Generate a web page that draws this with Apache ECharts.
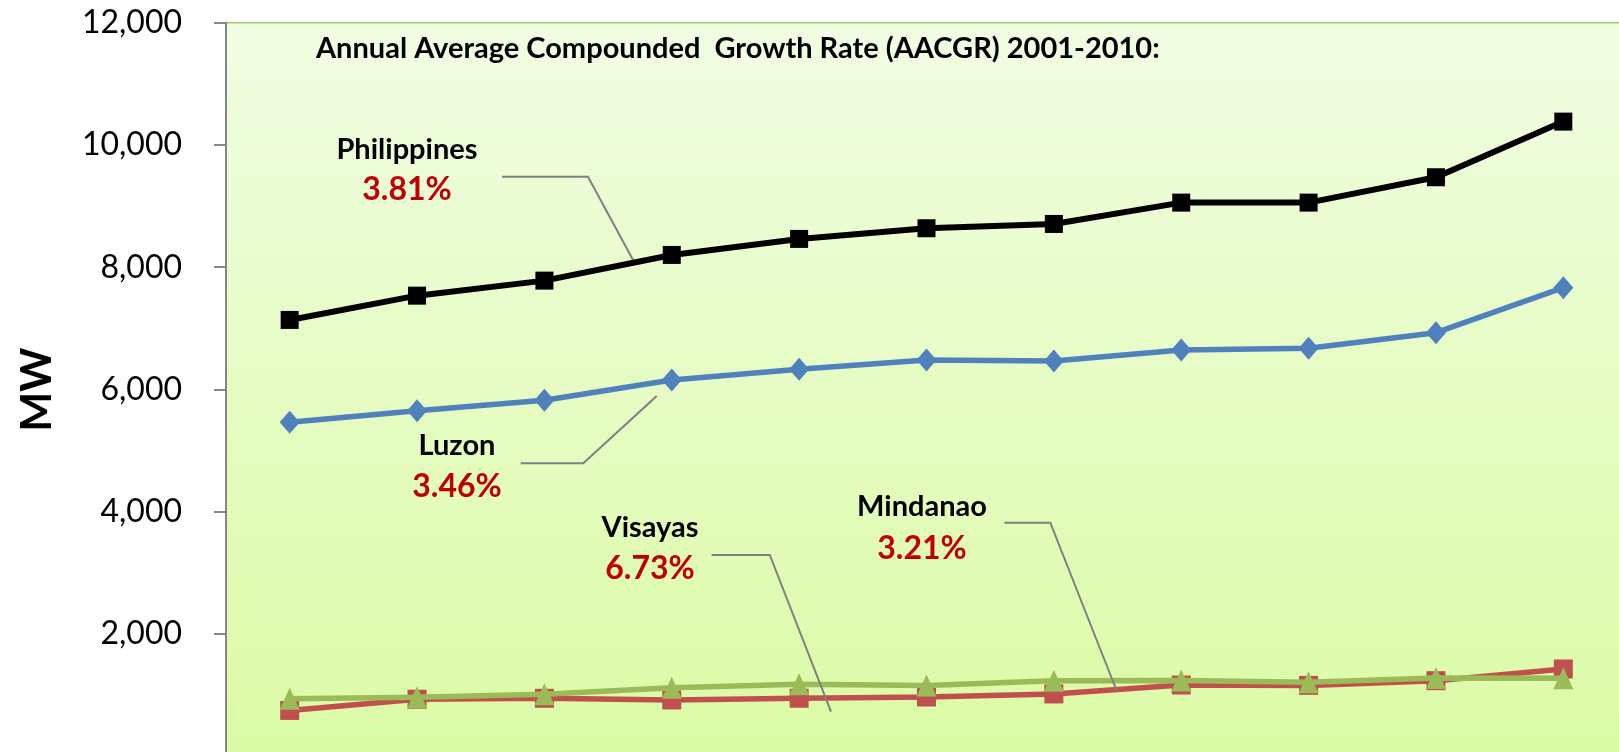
<!DOCTYPE html>
<html><head><meta charset="utf-8">
<script src="https://cdn.jsdelivr.net/npm/echarts@6/dist/echarts.min.js"></script>
<style>html,body{margin:0;padding:0;background:#fff;}#c{width:1619px;height:752px;}</style>
</head><body><div id="c"></div>
<script>
const years = ['2000','2001','2002','2003','2004','2005','2006','2007','2008','2009','2010'];
const philippines = [7138, 7535, 7781, 8201, 8463, 8638, 8708, 9057, 9057, 9472, 10382];
const luzon = [5464, 5654, 5824, 6156, 6331, 6484, 6467, 6647, 6675, 6930, 7666];
const visayas = [940, 965, 1014, 1122, 1178, 1160, 1237, 1240, 1210, 1281, 1275];
const mindanao = [750, 934, 949, 921, 949, 970, 1020, 1166, 1160, 1237, 1428];
const yTicks = [0, 2000, 4000, 6000, 8000, 10000, 12000];
const titleText = 'Annual Average Compounded  Growth Rate (AACGR) 2001-2010:';
const notes = [
  {name:'Philippines', rate:'3.81%'},
  {name:'Luzon', rate:'3.46%'},
  {name:'Visayas', rate:'6.73%'},
  {name:'Mindanao', rate:'3.21%'}
];

const FONT = 'Lato, "Open Sans", sans-serif';
const chart = echarts.init(document.getElementById('c'), null, {renderer:'canvas'});

function note(n, cx, y1, y2) {
  return [
    {type:'text', x:cx, y:y1, style:{text:n.name, font:'bold 29px '+FONT, fill:'#000', align:'center', verticalAlign:'middle'}},
    {type:'text', x:cx, y:y2, style:{text:n.rate, font:'bold 32px '+FONT, fill:'#c00000', align:'center', verticalAlign:'middle'}}
  ];
}
function leader(pts) {
  return {type:'polyline', shape:{points:pts}, style:{stroke:'#808080', lineWidth:2, fill:null}, z:5};
}

chart.setOption({
  animation:false,
  grid:{left:226, top:22.7, width:1401, height:733.6, outerBoundsMode:'none', containLabel:false,
    show:true, borderWidth:1.5, borderColor:'#a9cc6e',
    backgroundColor:new echarts.graphic.LinearGradient(0,0,0,1,[{offset:0,color:'#f1fde3'},{offset:1,color:'#dbfba5'}])},
  xAxis:{type:'category', data:years, boundaryGap:true, axisLine:{show:false}, axisTick:{show:false}, axisLabel:{show:false}},
  yAxis:{type:'value', min:yTicks[0], max:yTicks[yTicks.length-1], interval:2000,
    name:'MW', nameLocation:'middle', nameGap:168, nameRotate:90,
    nameTextStyle:{fontFamily:FONT, fontWeight:'bold', fontSize:42, color:'#000'},
    axisLine:{show:true, lineStyle:{color:'#868686', width:2}},
    axisTick:{show:true, inside:false, length:12, lineStyle:{color:'#868686', width:2}},
    axisLabel:{margin:44, fontFamily:FONT, fontSize:32, color:'#000', showMinLabel:false,
      formatter:v=>v.toLocaleString('en-US')},
    splitLine:{show:false}},
  series:[
    {name:'Mindanao', type:'line', data:mindanao, symbol:'rect', symbolSize:19,
      lineStyle:{color:'#c0504d', width:5.5}, itemStyle:{color:'#c0504d'}, z:2},
    {name:'Visayas', type:'line', data:visayas, symbol:'triangle', symbolSize:[20,22],
      lineStyle:{color:'#9bbb59', width:5.5}, itemStyle:{color:'#9bbb59'}, z:3},
    {name:'Luzon', type:'line', data:luzon, symbol:'diamond', symbolSize:[20,23],
      lineStyle:{color:'#4f81bd', width:5.5}, itemStyle:{color:'#4f81bd'}, z:4},
    {name:'Philippines', type:'line', data:philippines, symbol:'rect', symbolSize:18,
      lineStyle:{color:'#000', width:6}, itemStyle:{color:'#000'}, z:6}
  ],
  graphic:[
    {type:'text', x:316, y:48.5, style:{text:titleText, font:'bold 29px '+FONT, fill:'#000', verticalAlign:'middle'}},
    ...note(notes[0], 407, 150, 190),
    ...note(notes[1], 457, 446, 487),
    ...note(notes[2], 650, 528, 569),
    ...note(notes[3], 922, 507, 549),
    leader([[502,176.7],[588,176.7],[634,261.7]]),
    leader([[520.7,463.3],[583.3,463.3],[656.7,396]]),
    leader([[711.6,555],[769.8,555],[831,711.7]]),
    leader([[1004.4,522.7],[1050.3,522.7],[1116.4,690]])
  ]
});
</script></body></html>
